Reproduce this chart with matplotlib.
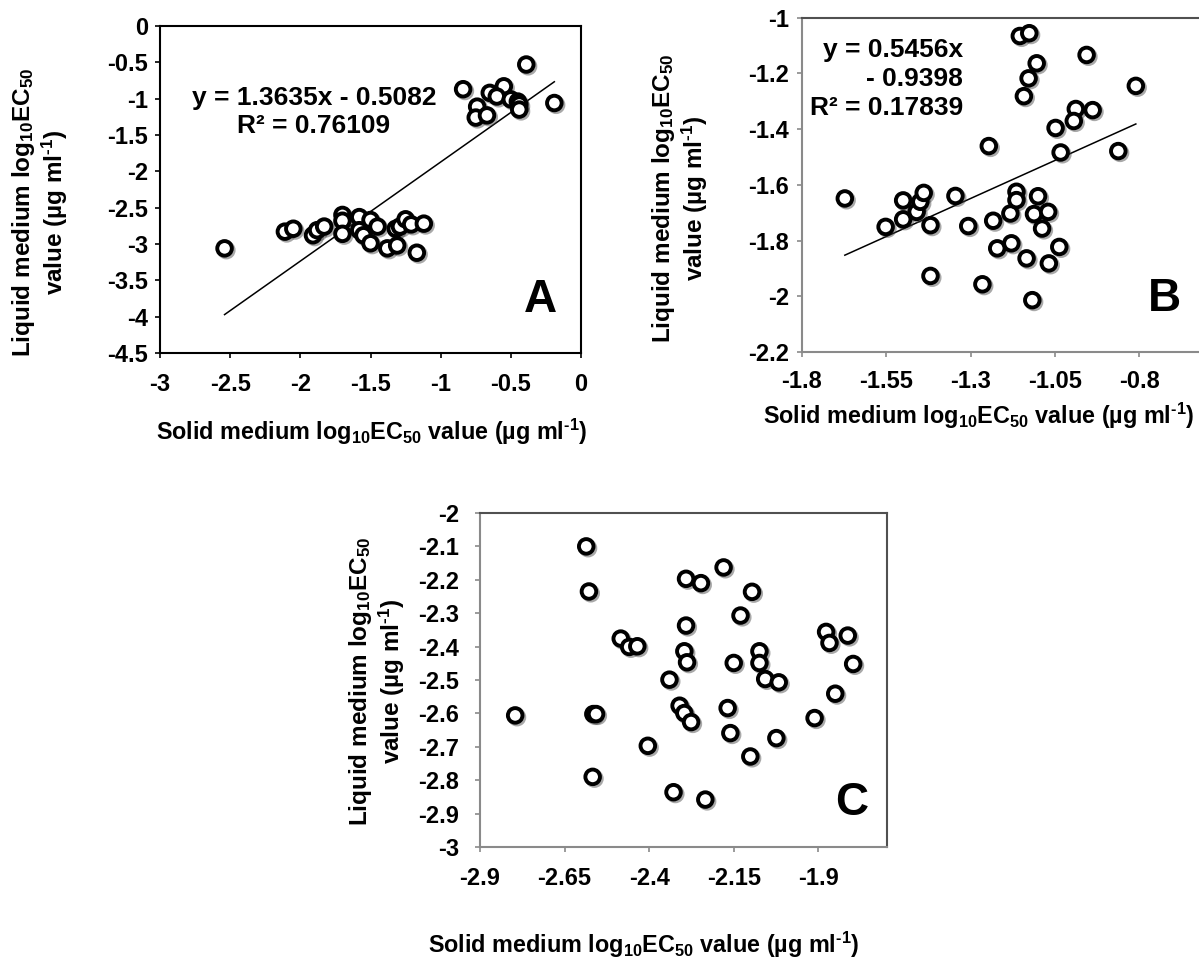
import numpy as np
import matplotlib
matplotlib.use('Agg')
import matplotlib.pyplot as plt
import matplotlib.patheffects as pe
from matplotlib.ticker import FixedLocator, FuncFormatter

plt.rcParams['font.family'] = ['Liberation Sans', 'DejaVu Sans']
plt.rcParams['font.weight'] = 'bold'
plt.rcParams['mathtext.fontset'] = 'custom'
plt.rcParams['mathtext.rm'] = 'Liberation Sans:bold'
plt.rcParams['mathtext.bf'] = 'Liberation Sans:bold'
plt.rcParams['mathtext.it'] = 'Liberation Sans:bold:italic'
plt.rcParams['axes.unicode_minus'] = False

# panel A
a_x = [-0.39, -0.84, -0.65, -0.55, -0.60, -0.50, -0.45, -0.44, -0.44, -0.19, -0.74, -0.75, -0.67,
       -2.54, -2.11, -2.05, -1.91, -1.88, -1.83, -1.70, -1.70, -1.70, -1.58, -1.58, -1.55,
       -1.50, -1.50, -1.45, -1.38, -1.32, -1.31, -1.29, -1.25, -1.21, -1.17, -1.12]
a_y = [-0.53, -0.87, -0.92, -0.83, -0.97, -1.01, -1.04, -1.08, -1.15, -1.06, -1.11, -1.26, -1.23,
       -3.06, -2.83, -2.79, -2.88, -2.81, -2.76, -2.60, -2.68, -2.86, -2.63, -2.81, -2.88,
       -2.67, -2.99, -2.76, -3.06, -2.79, -3.02, -2.76, -2.66, -2.73, -3.12, -2.72]
a_fit = (1.3635, -0.5082)
a_eq = 'y = 1.3635x - 0.5082\nR² = 0.76109'
a_xticks = [-3, -2.5, -2, -1.5, -1, -0.5, 0]
a_yticks = [0, -0.5, -1, -1.5, -2, -2.5, -3, -3.5, -4, -4.5]

# panel B
b_x = [-1.154, -1.126, -1.104, -1.128, -1.142, -0.956, -0.81, -0.988, -0.994, -0.938,
       -1.048, -1.033, -0.862, -1.246, -1.673, -1.552, -1.50, -1.50, -1.46, -1.449,
       -1.439, -1.419, -1.419, -1.345, -1.307, -1.265, -1.233, -1.221, -1.179, -1.182,
       -1.164, -1.164, -1.134, -1.10, -1.112, -1.07, -1.088, -1.068, -1.037, -1.117]
b_y = [-1.066, -1.056, -1.164, -1.218, -1.282, -1.134, -1.245, -1.328, -1.371, -1.332,
       -1.396, -1.484, -1.479, -1.461, -1.649, -1.751, -1.724, -1.656, -1.697, -1.661,
       -1.629, -1.745, -1.927, -1.64, -1.748, -1.957, -1.729, -1.828, -1.81, -1.703,
       -1.625, -1.655, -1.864, -1.641, -1.705, -1.697, -1.757, -1.882, -1.823, -2.014]
b_fit = (0.5456, -0.9398)
b_eq = 'y = 0.5456x\n- 0.9398\nR² = 0.17839'
b_xticks = [-1.8, -1.55, -1.3, -1.05, -0.8]
b_yticks = [-1, -1.2, -1.4, -1.6, -1.8, -2, -2.2]

# panel C
c_x = [-2.586, -2.578, -2.796, -2.565, -2.557, -2.567, -2.484, -2.459, -2.435, -2.404,
       -2.34, -2.328, -2.31, -2.296, -2.276, -2.291, -2.247, -2.291, -2.296, -2.288,
       -2.234, -2.18, -2.096, -2.13, -2.15, -2.168, -2.16, -2.074, -2.074, -2.057,
       -2.017, -2.101, -2.024, -1.911, -1.877, -1.867, -1.813, -1.797, -1.85]
c_y = [-2.10, -2.235, -2.606, -2.602, -2.602, -2.79, -2.376, -2.401, -2.399, -2.697,
       -2.499, -2.836, -2.577, -2.599, -2.626, -2.197, -2.21, -2.337, -2.414, -2.447,
       -2.858, -2.163, -2.236, -2.307, -2.449, -2.584, -2.659, -2.414, -2.449, -2.497,
       -2.507, -2.729, -2.674, -2.614, -2.356, -2.389, -2.367, -2.452, -2.541]
c_xticks = [-2.9, -2.65, -2.4, -2.15, -1.9]
c_yticks = [-2, -2.1, -2.2, -2.3, -2.4, -2.5, -2.6, -2.7, -2.8, -2.9, -3]

ylab = 'Liquid medium log$_{10}$EC$_{50}$\nvalue (µg ml$^{\\text{-1}}$)'
xlab = 'Solid medium log$_{10}$EC$_{50}$ value (µg ml$^{\\text{-1}}$)'

W, H = 1199, 961
fig = plt.figure(figsize=(W / 100, H / 100), dpi=100)


def box(l, t, r, b):
    return [l / W, 1 - b / H, (r - l) / W, (b - t) / H]


fmt = FuncFormatter(lambda v, p: ('%.2f' % v).rstrip('0').rstrip('.'))
shadow = [pe.SimpleLineShadow(offset=(1.3, -1.3), shadow_color='0.25', alpha=0.45), pe.Normal()]


def panel(rect, xs, ys, xlim, ylim, xticks, yticks, fit, side, dark, xpad, ypad):
    ax = fig.add_axes(rect)
    ax.set_xlim(*xlim)
    ax.set_ylim(*ylim)
    ax.xaxis.set_major_locator(FixedLocator(xticks))
    ax.yaxis.set_major_locator(FixedLocator(yticks))
    ax.xaxis.set_major_formatter(fmt)
    ax.yaxis.set_major_formatter(fmt)
    ax.tick_params(direction='out', length=3.6, width=1.2, labelsize=17, color=side)
    ax.tick_params(axis='x', pad=xpad)
    ax.tick_params(axis='y', pad=ypad)
    for s in ['left', 'bottom']:
        ax.spines[s].set_color(side)
        ax.spines[s].set_linewidth(1.5)
    for s in ['top', 'right']:
        ax.spines[s].set_color(dark)
        ax.spines[s].set_linewidth(1.5)
    ax.plot(xs, ys, 'o', ms=10.5, mew=2.8, mec='black', mfc='white', zorder=3,
            path_effects=shadow, clip_on=False)
    if fit is not None:
        xx = np.array([min(xs), max(xs)])
        ax.plot(xx, fit[0] * xx + fit[1], color='black', lw=1.1, zorder=2)
    return ax


axA = panel(box(160, 26, 581, 353), a_x, a_y, (-3, 0), (-4.5, 0), a_xticks, a_yticks,
            a_fit, 'black', 'black', 11, 5)
axB = panel(box(802, 17.6, 1223.5, 352), b_x, b_y, (-1.8, -0.55), (-2.2, -1), b_xticks, b_yticks,
            b_fit, '#8a8a8a', '#505050', 9.5, 5.5)
axC = panel(box(480, 513, 887, 847), c_x, c_y, (-2.9, -1.697), (-3, -2), c_xticks, c_yticks,
            None, '#8a8a8a', '#505050', 11, 11.5)

# equations
fig.text(314 / W, 1 - 112 / H, a_eq, ha='center', va='center', fontsize=19,
         fontweight='bold', linespacing=1.25)
fig.text(963 / W, 1 - 79 / H, b_eq, ha='right', va='center', fontsize=19,
         fontweight='bold', linespacing=1.25, multialignment='right')

# panel letters
for lab, (px, py) in zip(['A', 'B', 'C'], [(540, 300), (1164, 299), (852, 803)]):
    fig.text(px / W, 1 - py / H, lab, ha='center', va='center', fontsize=33, fontweight='bold')

# axis labels
for (px, py) in [(40, 212), (680, 198), (377, 681)]:
    fig.text(px / W, 1 - py / H, ylab, rotation=90, ha='center', va='center',
             fontsize=17.5, fontweight='bold', linespacing=1.1)
for (px, py) in [(372, 432), (979, 416), (644, 945)]:
    fig.text(px / W, 1 - py / H, xlab, ha='center', va='center', fontsize=16.8,
             fontweight='bold')

fig.savefig('out.png', dpi=100)
